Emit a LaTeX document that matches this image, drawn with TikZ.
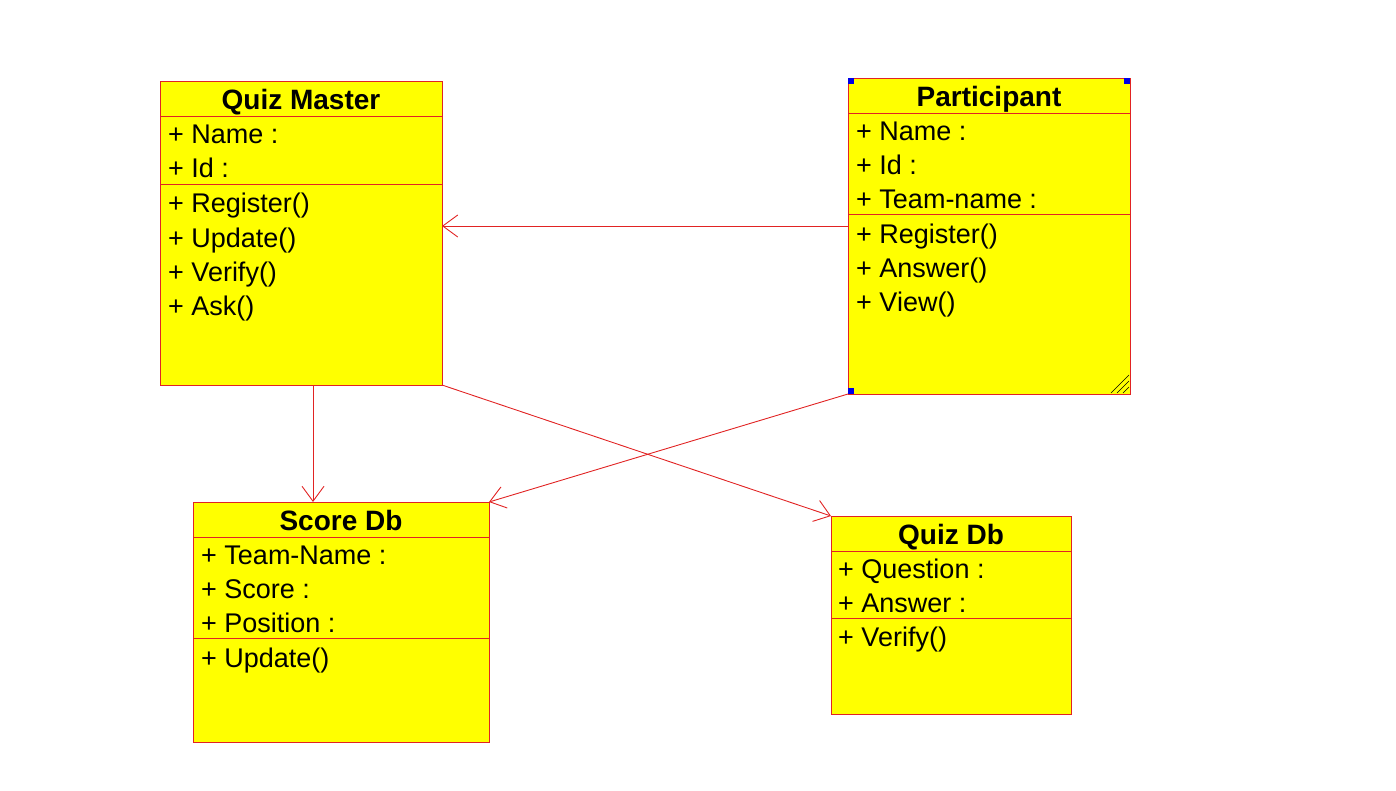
\documentclass[tikz,border=0pt]{standalone}
\usepackage{fontspec}
\setmainfont{Liberation Sans}
\usetikzlibrary{arrows.meta}
\definecolor{umlline}{RGB}{225,35,35}
\definecolor{umlfill}{RGB}{255,255,0}
\definecolor{handle}{RGB}{0,0,230}
\tikzset{
  classbox/.style={draw=umlline, fill=umlfill, line width=1pt, inner sep=0pt, outer sep=0pt},
  divider/.style={draw=umlline, line width=1pt},
  ctitle/.style={font=\fontsize{28}{32}\selectfont\bfseries, inner sep=0pt, anchor=base},
  member/.style={font=\fontsize{27}{31}\selectfont, inner sep=0pt, anchor=base west},
  assoc/.style={draw=umlline, line width=0.9pt, -{Straight Barb[length=15pt,width=22pt,line width=0.9pt]}},
  handlebox/.style={fill=handle, draw=none, minimum size=6pt, inner sep=0pt}
}
\begin{document}
\begin{tikzpicture}[x=1pt,y=-1pt]
\useasboundingbox (0,0) rectangle (1396,790);
% Quiz Master
\node[classbox, minimum width=282pt, minimum height=304pt] (qm) at (301,233) {};
\draw[divider] (160,116) -- (442,116);
\draw[divider] (160,184) -- (442,184);
\node[ctitle] (qmt) at (301,109) {Quiz Master};
\node[member] (qm1) at (168,143) {+ Name :};
\node[member] (qm2) at (168,177) {+ Id :};
\node[member] (qm3) at (168,212) {+ Register()};
\node[member] (qm4) at (168,247) {+ Update()};
\node[member] (qm5) at (168,281) {+ Verify()};
\node[member] (qm6) at (168,315) {+ Ask()};
% Participant
\node[classbox, minimum width=282pt, minimum height=316pt] (p) at (989,236) {};
\draw[divider] (848,113) -- (1130,113);
\draw[divider] (848,214) -- (1130,214);
\node[ctitle] (pt) at (989,106) {Participant};
\node[member] (p1) at (856,140) {+ Name :};
\node[member] (p2) at (856,174) {+ Id :};
\node[member] (p3) at (856,208) {+ Team-name :};
\node[member] (p4) at (856,243) {+ Register()};
\node[member] (p5) at (856,277) {+ Answer()};
\node[member] (p6) at (856,311) {+ View()};
\node[handlebox] (h1) at (851,81) {};
\node[handlebox] (h2) at (1127,81) {};
\node[handlebox] (h3) at (851,391) {};
\draw[black, line width=0.6pt] (1111,393) -- (1129,375) (1117,393) -- (1129,381) (1123,393) -- (1129,387);
% Score Db
\node[classbox, minimum width=296pt, minimum height=240pt] (sd) at (341,622) {};
\draw[divider] (193,537) -- (489,537);
\draw[divider] (193,638) -- (489,638);
\node[ctitle] (sdt) at (341,530) {Score Db};
\node[member] (sd1) at (201,564) {+ Team-Name :};
\node[member] (sd2) at (201,598) {+ Score :};
\node[member] (sd3) at (201,632) {+ Position :};
\node[member] (sd4) at (201,667) {+ Update()};
% Quiz Db
\node[classbox, minimum width=240pt, minimum height=198pt] (qd) at (951,615) {};
\draw[divider] (831,551) -- (1071,551);
\draw[divider] (831,618) -- (1071,618);
\node[ctitle] (qdt) at (951,544) {Quiz Db};
\node[member] (qd1) at (838,578) {+ Question :};
\node[member] (qd2) at (838,612) {+ Answer :};
\node[member] (qd3) at (838,646) {+ Verify()};
% connectors
\coordinate (pa) at (848,226);
\coordinate (qa) at (442,226);
\draw[assoc] (pa) -- (qa);
\draw[assoc] (qm.south -| 313,0) -- (sd.north -| 313,0);
\draw[assoc] (qm.south east) -- (qd.north west);
\draw[assoc] (p.south west) -- (sd.north east);
\end{tikzpicture}
\end{document}
